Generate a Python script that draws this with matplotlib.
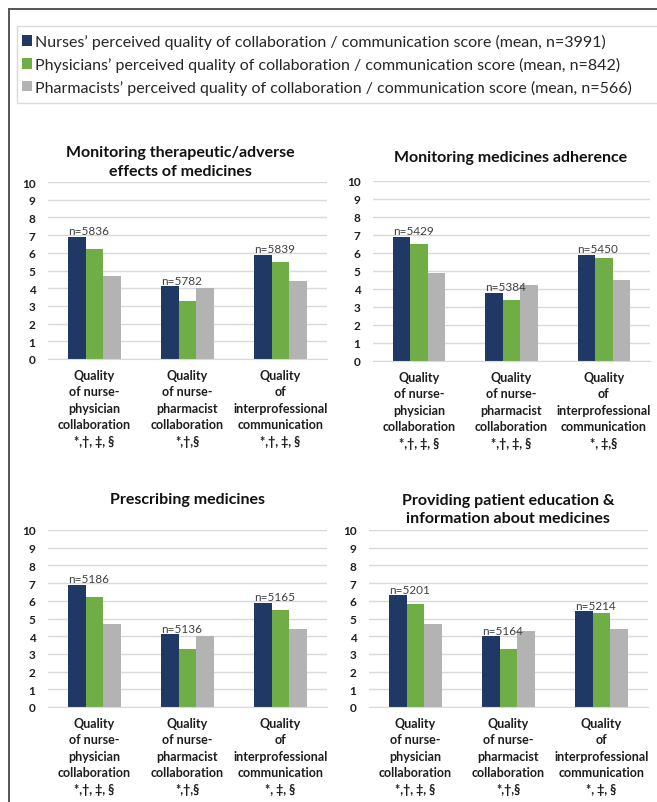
import numpy as np
import matplotlib
matplotlib.use("Agg")
import matplotlib.pyplot as plt
from matplotlib.patches import Rectangle
from matplotlib.lines import Line2D

plt.rcParams['font.family'] = ['Lato', 'DejaVu Sans']

W, H = 657, 803

series_labels = [
    "Nurses’ perceived quality of collaboration / communication score (mean, n=3991)",
    "Physicians’ perceived quality of collaboration / communication score (mean, n=842)",
    "Pharmacists’ perceived quality of collaboration / communication score (mean, n=566)",
]
colors = ['#203864', '#70AD47', '#B3B3B3']

titles = [
    "Monitoring therapeutic/adverse\neffects of medicines",
    "Monitoring medicines adherence",
    "Prescribing medicines",
    "Providing patient education &\ninformation about medicines",
]

# mean scores per panel: [nurses, physicians, pharmacists] x 3 categories
nurses = [[6.9, 4.1, 5.9], [6.9, 3.8, 5.9], [6.9, 4.1, 5.9], [6.3, 4.0, 5.4]]
physicians = [[6.2, 3.3, 5.5], [6.5, 3.4, 5.7], [6.2, 3.3, 5.5], [5.8, 3.3, 5.3]]
pharmacists = [[4.7, 4.0, 4.4], [4.9, 4.2, 4.5], [4.7, 4.0, 4.4], [4.7, 4.3, 4.4]]

n_labels = [
    ["n=5836", "n=5782", "n=5839"],
    ["n=5429", "n=5384", "n=5450"],
    ["n=5186", "n=5136", "n=5165"],
    ["n=5201", "n=5164", "n=5214"],
]

cat_base = [
    "Quality\nof nurse-\nphysician\ncollaboration",
    "Quality\nof nurse-\npharmacist\ncollaboration",
    "Quality\nof\ninterprofessional\ncommunication",
]
sig_marks = [
    ["*,†, ‡, §", "*,†,§", "*,†, ‡, §"],
    ["*,†, ‡, §", "*,†, ‡, §", "*, ‡,§"],
    ["*,†, ‡, §", "*,†,§", "*, ‡, §"],
    ["*,†, ‡, §", "*,†,§", "*, ‡, §"],
]

# axes boxes in pixels: left, top, right, bottom
boxes = [(48, 183, 327, 360), (373, 182, 650, 362),
         (48, 531, 327, 708), (369, 531, 648, 708)]
title_pos = [(180, 162.5), (511, 158), (187, 500), (508, 510)]

fig = plt.figure(figsize=(W / 100, H / 100), dpi=100)

# outer frame (top and left edges visible)
fig.add_artist(Line2D([9 / W, 1.01], [1 - 10 / H, 1 - 10 / H], color='#555555', lw=1.4))
fig.add_artist(Line2D([9 / W, 9 / W], [1 - 10 / H, -0.01], color='#555555', lw=1.4))
# legend box
fig.add_artist(Rectangle((17 / W, 1 - 104 / H), 1.0, 77 / H, transform=fig.transFigure,
                         fill=False, edgecolor='#d9d9d9', lw=1))

x = np.arange(3)
bw = 0.19
handles = []
for i, (l, t, r, b) in enumerate(boxes):
    ax = fig.add_axes([l / W, 1 - b / H, (r - l) / W, (b - t) / H])
    bars = []
    for j, vals in enumerate([nurses[i], physicians[i], pharmacists[i]]):
        bars.append(ax.bar(x + (j - 1) * bw, vals, width=bw, color=colors[j], zorder=2))
    if i == 0:
        handles = bars
    for k, rect in enumerate(bars[0]):
        ax.annotate(n_labels[i][k], (rect.get_x(), rect.get_height()),
                    xytext=(0, 0.5), textcoords='offset points',
                    ha='left', va='bottom', fontsize=8.5, color='#404040')
    ax.set_xlim(-0.5, 2.5)
    ax.set_ylim(0, 10)
    ax.set_yticks(range(0, 11))
    ax.set_xticks(x)
    ax.set_xticklabels([c + "\n" + s for c, s in zip(cat_base, sig_marks[i])],
                       fontweight='bold', fontsize=9, linespacing=1.45, color='#1e1e1e')
    for lab in ax.get_yticklabels():
        lab.set_fontweight('bold')
        lab.set_fontsize(8.5)
        lab.set_color('#1e1e1e')
    ax.tick_params(axis='both', length=0)
    ax.tick_params(axis='x', pad=7)
    ax.tick_params(axis='y', pad=9)
    ax.yaxis.grid(True, color='#d9d9d9', lw=1, zorder=0)
    ax.set_axisbelow(True)
    for sp in ['top', 'right', 'left']:
        ax.spines[sp].set_visible(False)
    ax.spines['bottom'].set_color('#d9d9d9')
    ax.patch.set_alpha(0)
    tx, ty = title_pos[i]
    fig.text(tx / W, 1 - ty / H, titles[i], ha='center', va='center',
             fontsize=11.5, fontweight='bold', color='#111111', linespacing=1.38)

fig.legend(handles, series_labels, loc='upper left', bbox_to_anchor=(22 / W, 1 - 35 / H),
           frameon=False, fontsize=11.5, handlelength=0.65, handleheight=0.65,
           handletextpad=0.15, labelspacing=0.48, borderpad=0, borderaxespad=0,
           labelcolor='#262626')

fig.savefig('out.png', dpi=100)
